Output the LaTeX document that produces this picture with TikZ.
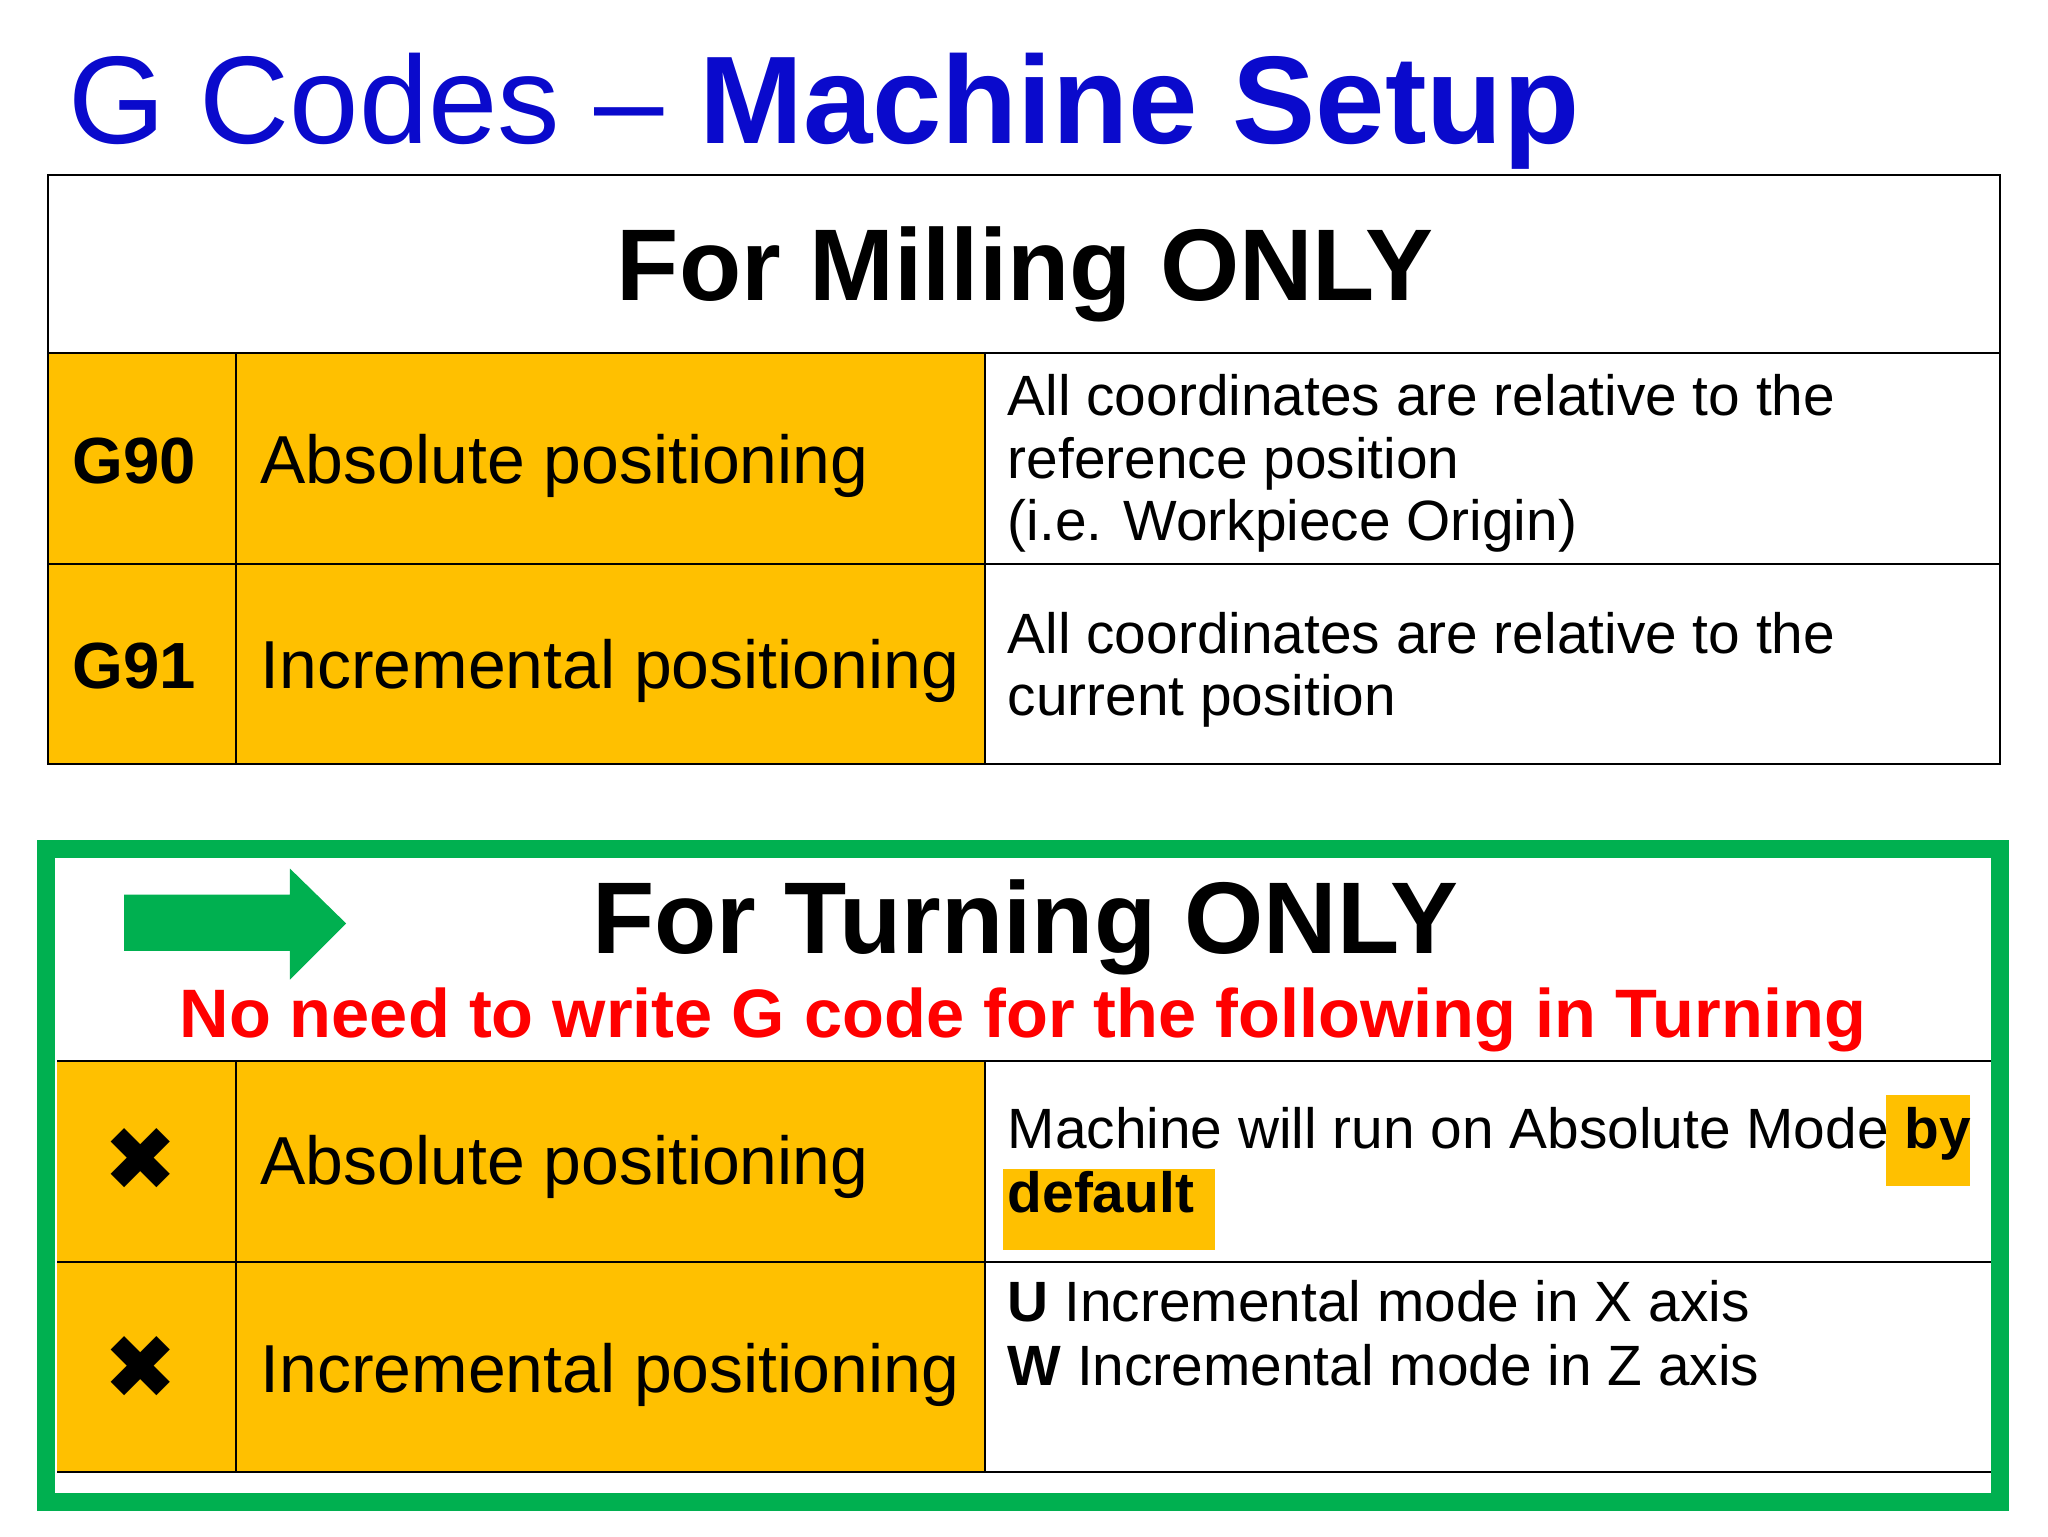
\documentclass[tikz,border=0pt]{standalone}
\usepackage{fontspec}
\setmainfont{Liberation Sans}
\newfontfamily\symf{DejaVu Sans}
\definecolor{org}{HTML}{FFC000}
\definecolor{grn}{HTML}{00B050}
\definecolor{ttl}{HTML}{0A0ACC}
\begin{document}
\begin{tikzpicture}[x=1pt,y=-1pt,
 cell/.style={line width=1.5pt},
 big/.style={anchor=base,font=\fontsize{78}{82}\selectfont\bfseries},
 code/.style={anchor=base west,font=\fontsize{50}{56}\selectfont\bfseries},
 lab/.style={anchor=base west,font=\fontsize{52}{58}\selectfont},
 desc/.style={anchor=base west,font=\fontsize{43.5}{48}\selectfont},
 xm/.style={font=\symf\fontsize{68}{70}\selectfont}]
\useasboundingbox (0,0) rectangle (1568,1176);
% title
\node[anchor=base west,text=ttl,font=\fontsize{95.5}{100}\selectfont,inner sep=0] (title) at (52,110) {G Codes -- \textbf{Machine Setup}};
% table 1
\fill[org] (37,270) rectangle (754,585);
\draw[cell] (37,134) rectangle (1531,585);
\draw[cell] (37,270) -- (1531,270) (37,432) -- (1531,432);
\draw[cell] (181,270) -- (181,585) (754,270) -- (754,585);
\node[big] (h1) at (785,230) {For Milling ONLY};
\node[code] (g90) at (52,370) {G90};
\node[lab] (l1) at (196,370) {Absolute positioning};
\node[desc] (d1) at (768,318) {All coordinates are relative to the};
\node[desc] (d1b) at (768,366) {reference position};
\node[desc] (d1c) at (768,414) {(i.e. Workpiece Origin)};
\node[code] (g91) at (52,527) {G91};
\node[lab] (l2) at (196,527) {Incremental positioning};
\node[desc] (d2) at (768,500) {All coordinates are relative to the};
\node[desc] (d2b) at (768,548) {current position};
% green box
\draw[grn,line width=14pt] (35,650) rectangle (1531,1150);
\fill[org] (44,812) rectangle (754,1127);
\fill[org] (1444,838) rectangle (1508,908);
\fill[org] (768,895) rectangle (930,957);
\draw[cell] (44,812) -- (1524,812) (44,966) -- (1524,966) (44,1127) -- (1524,1127);
\draw[cell] (181,812) -- (181,1127) (754,812) -- (754,1127);
\fill[grn] (95,685) -- (222,685) -- (222,665) -- (265,707) -- (222,750) -- (222,728) -- (95,728) -- cycle;
\node[big] (h2) at (785,730) {For Turning ONLY};
\node[anchor=base,text=red,font=\fontsize{52.5}{56}\selectfont\bfseries] (red) at (783,794) {No need to write G code for the following in Turning};
\node[xm] (x1) at (108,888) {✖};
\node[lab] (l3) at (196,907) {Absolute positioning};
\node[desc] (d3) at (768,879) {Machine will run on Absolute Mode \textbf{by}};
\node[desc] (d3b) at (768,928) {\textbf{default}};
\node[xm] (x2) at (108,1047) {✖};
\node[lab] (l4) at (196,1066) {Incremental positioning};
\node[desc] (d4) at (768,1012) {\textbf{U} Incremental mode in X axis};
\node[desc] (d4b) at (768,1061) {\textbf{W} Incremental mode in Z axis};
\end{tikzpicture}
\end{document}
